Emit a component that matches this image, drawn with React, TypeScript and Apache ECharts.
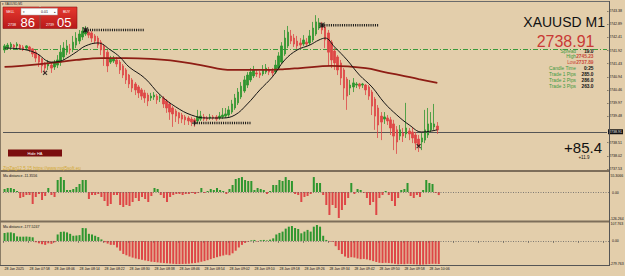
import React, { useEffect, useRef } from "react";
import * as echarts from "echarts";

// ---------- data ----------
const timeTicks = [
  "28 Jan 2025", "28 Jan 07:58", "28 Jan 08:06", "28 Jan 08:14", "28 Jan 08:22", "28 Jan 08:30",
  "28 Jan 08:38", "28 Jan 08:46", "28 Jan 08:54", "28 Jan 09:02", "28 Jan 09:10", "28 Jan 09:18",
  "28 Jan 09:26", "28 Jan 09:34", "28 Jan 09:42", "28 Jan 09:50", "28 Jan 09:58", "28 Jan 10:06",
];
const SLOTS = 194;

// the 2738.99 tick is hidden behind the bid-price marker in the reference
const priceTicks = [
  2743.38, 2742.89, 2742.41, 2741.92, 2741.43, 2740.94, 2740.46,
  2739.97, 2739.48, 2738.51, 2738.02, 2737.53,
];

// Heikin-Ashi candles: [open, close, low, high]
const candles: number[][] = [
  [2741.94, 2742.09, 2741.83, 2742.16], [2742.01, 2742.12, 2741.94, 2742.20], [2742.05, 2742.16, 2741.98, 2742.23],
  [2742.12, 2742.05, 2741.98, 2742.16], [2742.09, 2742.16, 2742.01, 2742.23], [2742.12, 2742.01, 2741.94, 2742.16],
  [2742.05, 2741.98, 2741.90, 2742.12], [2742.01, 2742.09, 2741.94, 2742.12], [2742.05, 2741.94, 2741.86, 2742.09],
  [2741.98, 2741.79, 2741.68, 2742.01], [2741.86, 2741.64, 2741.49, 2741.94], [2741.75, 2741.49, 2741.31, 2741.79],
  [2741.61, 2741.35, 2741.09, 2741.64], [2741.46, 2741.27, 2741.05, 2741.49], [2741.35, 2741.42, 2741.20, 2741.57],
  [2741.38, 2741.27, 2741.09, 2741.46], [2741.31, 2741.46, 2741.20, 2741.57], [2741.38, 2741.57, 2741.27, 2741.75],
  [2741.49, 2741.86, 2741.35, 2742.12], [2741.68, 2742.01, 2741.57, 2742.23], [2741.86, 2742.09, 2741.75, 2742.31],
  [2741.98, 2741.94, 2741.79, 2742.16], [2741.98, 2742.23, 2741.86, 2742.46], [2742.12, 2742.38, 2742.01, 2742.60],
  [2742.27, 2742.53, 2742.16, 2742.68], [2742.42, 2742.64, 2742.31, 2742.79], [2742.53, 2742.68, 2742.46, 2742.83],
  [2742.60, 2742.49, 2742.38, 2742.68], [2742.57, 2742.38, 2742.23, 2742.64], [2742.46, 2742.27, 2742.16, 2742.53],
  [2742.38, 2742.12, 2742.01, 2742.46], [2742.23, 2741.94, 2741.75, 2742.31], [2742.09, 2741.64, 2741.35, 2742.16],
  [2741.86, 2741.35, 2741.12, 2741.94], [2741.49, 2741.61, 2741.42, 2741.72], [2741.53, 2741.64, 2741.46, 2741.72],
  [2741.57, 2741.42, 2741.31, 2741.68], [2741.49, 2741.20, 2741.05, 2741.57], [2741.35, 2741.01, 2740.90, 2741.42],
  [2741.20, 2740.83, 2740.68, 2741.27], [2741.01, 2740.68, 2740.53, 2741.05], [2740.83, 2740.53, 2740.38, 2740.90],
  [2740.68, 2740.46, 2740.27, 2740.75], [2740.57, 2740.35, 2740.16, 2740.64], [2740.46, 2740.23, 2740.09, 2740.53],
  [2740.35, 2740.16, 2739.98, 2740.46], [2740.27, 2740.05, 2739.86, 2740.35], [2740.16, 2740.23, 2740.05, 2740.35],
  [2740.20, 2740.27, 2740.09, 2740.38], [2740.23, 2740.09, 2739.94, 2740.31], [2740.16, 2740.20, 2740.01, 2740.27],
  [2740.16, 2739.94, 2739.79, 2740.23], [2740.05, 2739.79, 2739.61, 2740.12], [2739.94, 2739.64, 2739.35, 2740.01],
  [2739.79, 2739.57, 2739.09, 2739.86], [2739.68, 2739.49, 2739.27, 2739.75], [2739.61, 2739.42, 2739.20, 2739.64],
  [2739.53, 2739.38, 2739.23, 2739.61], [2739.46, 2739.35, 2739.16, 2739.53], [2739.42, 2739.31, 2739.16, 2739.49],
  [2739.38, 2739.27, 2739.12, 2739.46], [2739.35, 2739.27, 2739.09, 2739.42], [2739.31, 2739.46, 2739.23, 2739.72],
  [2739.38, 2739.49, 2739.31, 2739.68], [2739.46, 2739.38, 2739.31, 2739.57], [2739.42, 2739.38, 2739.31, 2739.49],
  [2739.42, 2739.46, 2739.35, 2739.57], [2739.46, 2739.42, 2739.35, 2739.53], [2739.46, 2739.38, 2739.31, 2739.53],
  [2739.42, 2739.49, 2739.35, 2739.64], [2739.46, 2739.53, 2739.38, 2739.79], [2739.49, 2739.57, 2739.42, 2739.79],
  [2739.53, 2739.72, 2739.46, 2739.86], [2739.64, 2739.94, 2739.57, 2740.09], [2739.79, 2740.16, 2739.72, 2740.31],
  [2739.98, 2740.38, 2739.90, 2740.53], [2740.20, 2740.60, 2740.12, 2740.75], [2740.42, 2740.83, 2740.35, 2740.98],
  [2740.64, 2741.01, 2740.53, 2741.12], [2740.83, 2741.12, 2740.75, 2741.27], [2740.98, 2741.20, 2740.90, 2741.35],
  [2741.09, 2741.05, 2740.94, 2741.20], [2741.09, 2741.01, 2740.90, 2741.16], [2741.05, 2741.20, 2740.98, 2741.38],
  [2741.12, 2741.27, 2741.05, 2741.42], [2741.20, 2741.12, 2741.01, 2741.31], [2741.16, 2741.09, 2740.98, 2741.27],
  [2741.12, 2741.38, 2741.05, 2741.57], [2741.27, 2741.72, 2741.20, 2741.86], [2741.49, 2742.09, 2741.42, 2742.23],
  [2741.79, 2742.38, 2741.72, 2742.68], [2742.09, 2742.60, 2742.01, 2742.83], [2742.46, 2742.27, 2742.16, 2742.68],
  [2742.38, 2742.16, 2742.05, 2742.53], [2742.27, 2742.09, 2741.98, 2742.46], [2742.20, 2742.12, 2742.01, 2742.38],
  [2742.16, 2742.31, 2742.09, 2742.49], [2742.23, 2742.16, 2742.05, 2742.38], [2742.20, 2742.46, 2742.12, 2742.68],
  [2742.31, 2742.75, 2742.23, 2742.98], [2742.53, 2742.98, 2742.46, 2743.23], [2742.75, 2742.94, 2742.68, 2743.12],
  [2742.86, 2742.68, 2742.53, 2742.98], [2742.79, 2742.31, 2742.01, 2742.86], [2742.57, 2741.86, 2741.35, 2742.68],
  [2742.23, 2741.57, 2741.27, 2742.31], [2741.90, 2741.46, 2741.20, 2742.01], [2741.68, 2741.20, 2741.01, 2741.75],
  [2741.46, 2740.90, 2740.64, 2741.57], [2741.20, 2740.53, 2740.09, 2741.27], [2740.86, 2740.23, 2739.72, 2740.94],
  [2740.53, 2740.64, 2740.27, 2740.83], [2740.57, 2740.72, 2740.38, 2740.90], [2740.64, 2740.68, 2740.53, 2740.75],
  [2740.68, 2740.60, 2740.49, 2740.72], [2740.64, 2740.68, 2740.53, 2740.72], [2740.64, 2740.46, 2740.27, 2740.68],
  [2740.57, 2740.23, 2740.09, 2740.64], [2740.38, 2739.86, 2739.53, 2740.46], [2740.12, 2739.49, 2738.98, 2740.20],
  [2739.79, 2739.16, 2738.68, 2739.90], [2739.49, 2739.27, 2738.60, 2739.64], [2739.38, 2739.46, 2739.20, 2739.64],
  [2739.42, 2739.31, 2739.16, 2739.53], [2739.35, 2739.05, 2738.79, 2739.46], [2739.20, 2738.75, 2738.23, 2739.35],
  [2738.98, 2738.53, 2738.09, 2739.12], [2738.75, 2738.98, 2738.60, 2739.16], [2738.86, 2738.75, 2738.53, 2739.05],
  [2738.83, 2739.05, 2738.68, 2739.98], [2738.94, 2738.83, 2738.60, 2739.05], [2738.90, 2738.68, 2738.49, 2739.09],
  [2738.79, 2738.49, 2738.23, 2738.90], [2738.64, 2738.38, 2738.16, 2738.79], [2738.53, 2738.68, 2738.23, 2738.86],
  [2738.60, 2738.98, 2738.49, 2739.72], [2738.79, 2739.20, 2738.68, 2739.79], [2738.98, 2739.23, 2738.90, 2739.64],
  [2739.09, 2739.20, 2738.98, 2739.94], [2739.12, 2738.98, 2738.83, 2739.27],
];

// moving averages, [bar index, value]
const fastMA: number[][] = [
  [0, 2742.01], [5, 2741.98], [10, 2741.83], [15, 2741.49], [18, 2741.53], [20, 2741.64], [23, 2741.86],
  [26, 2742.09], [30, 2742.20], [34, 2741.94], [37, 2741.68], [40, 2741.31], [45, 2740.90], [50, 2740.27],
  [55, 2739.83], [60, 2739.53], [65, 2739.42], [70, 2739.42], [74, 2739.53], [78, 2739.94], [82, 2740.46],
  [86, 2740.94], [90, 2741.57], [94, 2741.94], [98, 2742.12], [101, 2742.31], [103, 2742.38], [106, 2742.05],
  [110, 2741.57], [114, 2741.01], [118, 2740.57], [122, 2739.98], [126, 2739.53], [130, 2739.16], [134, 2738.90],
  [139, 2738.98],
];
const slowMA: number[][] = [
  [0, 2741.31], [8, 2741.38], [15, 2741.46], [23, 2741.57], [31, 2741.64], [39, 2741.64], [47, 2741.61],
  [55, 2741.53], [63, 2741.38], [73, 2741.20], [84, 2741.20], [90, 2741.23], [95, 2741.27], [105, 2741.35],
  [116, 2741.27], [122, 2741.12], [127, 2741.01], [133, 2740.86], [139, 2740.72],
];

// zigzag pivots [index, price] and their hatched levels [from, to, price]
const pivotsX: number[][] = [[13, 2741.09], [133, 2738.38]];
const pivotsStar: number[][] = [[26, 2742.68], [102, 2742.86]];
const pivotsPlus: number[][] = [[61, 2739.23]];
const zzLevels: number[][] = [[26, 45, 2742.68], [61, 79, 2739.23], [102, 120, 2742.86]];

const bidPrice = 2738.91;
const levelLine = 2741.98;

const maDistance1 = [
  11.1, 14.8, 14.8, 11.1, 3.7, -22.2, -18.5, -11.1, -11.1, -44.4, -18.5, -7.4, -29.6, -14.8, 14.8, -11.1, -18.5,
  44.4, 55.3, 44.4, 7.4, 7.4, 11.1, 18.5, 29.6, 44.4, 44.4, -25.9, -11.1, -11.1, -7.4, -18.5, -33.3, -51.8, -44.4,
  -11.1, -11.1, -48.1, -55.5, -48.1, -51.8, -37, -22.2, -33.3, -18.5, -25.9, -37, -14.8, 14.8, 11.1, -11.1, -22.2,
  -37, -18.5, -11.1, -7.4, -7.4, -11.1, -7.4, -7.4, -3.7, -7.4, -3.7, 14.8, -3.7, 3.7, 11.1, 7.4, 14.8, 7.4, 3.7,
  -7.4, 11.1, 25.9, 48.1, 51.8, 55.3, 44.4, 40.7, 40.7, 7.4, 14.8, 11.1, 7.4, -7.4, 3.7, 25.9, 25.9, 44.4, 40.7,
  55.3, 44.4, 40.7, -7.4, -11.1, -37, -18.5, -14.8, -7.4, 55.3, 33.3, 33.3, -11.1, -48.1, -85.1, -48.1, -59.2,
  -96.2, -66.6, -48.1, -22.2, 33.3, -7.4, 11.1, 7.4, -3.7, -22.2, -48.1, -37, -85.1, -22.2, -11.1, 3.7, -11.1,
  -33.3, -51.8, -22.2, 7.4, 11.1, 33.3, -14.8, -22.2, -11.1, -18.5, 7.4, 44.4, 33.3, 29.6, -3.7, -11.3556,
];
const maDistance2 = [
  62, 66, 66, 60, 35, 33, 33, 34, 32, 28, -10, -18, -25, -30, -18, -22, -10, 50, 70, 72, 66, 55, 40, 42, 45,
  100, 98, 55, 50, 40, 30, 12, -10, -20, -30, -30, -50, -75, -100, -110, -120, -128, -135, -140, -145, -150,
  -155, -160, -162, -165, -168, -170, -172, -174, -176, -178, -178, -177, -176, -175, -172, -170, -166, -160,
  -155, -148, -140, -132, -125, -118, -112, -106, -110, -95, -75, -50, -30, -15, -6, 5, 8, -4, 6, 8, 4, 10,
  20, 50, 62, 72, 95, 110, 115, 100, 92, 59, 72, 85, 72, 110, 123, 110, 40, 8, -5, -6, -40, -70, -100, -120,
  -130, -125, -128, -135, -140, -138, -142, -148, -155, -162, -168, -170, -168, -170, -172, -176, -180, -178,
  -179, -176, -177, -179, -181, -183, -182, -180, -178, -176, -176, -177.5247,
];

const panelTitles = ["Ma distance -11.3556", "Ma distance -177.5247"];
const panel1Labels = ["55.3066", "0.00", "-126.264"];
const panel2Labels = ["107.763", "0.00", "-279.763"];
const infoRows = [
  ["Spread", "19.0"], ["High", "2745.23"], ["Low", "2737.89"], ["Candle Time", "0:25"],
  ["Trade 1 Pips", "285.0"], ["Trade 2 Pips", "286.0"], ["Trade 3 Pips", "263.0"],
];

// ---------- styling ----------
const BG = "#E3CEAB";
const BULL = "#2E962E";
const BEAR = "#DE4646";
const FONT = "'Liberation Sans', Arial, sans-serif";

const T = (text: string, x: number, y: number, size: number, fill: string, align = "left", weight = "normal") => ({
  type: "text", x, y, silent: true, z: 50,
  style: { text, fill, fontSize: size, fontFamily: FONT, fontWeight: weight, align, textAlign: align, verticalAlign: "middle", textVerticalAlign: "middle" },
});
const L = (x1: number, y1: number, x2: number, y2: number, stroke: string, lineWidth = 1) => ({
  type: "line", silent: true, z: 40, shape: { x1, y1, x2, y2 }, style: { stroke, lineWidth },
});

export default function App() {
  const ref = useRef<HTMLDivElement>(null);
  useEffect(() => {
    if (!ref.current) return;
    const chart = echarts.init(ref.current, undefined, { renderer: "svg" });
    const categories = Array.from({ length: SLOTS }, (_, i) => "b" + i);

    const xAx = (g: number) => ({
      type: "category", gridIndex: g, data: categories, boundaryGap: true,
      axisLine: { show: false },
      axisTick: g === 2 ? { show: true, interval: 7, length: 2, lineStyle: { color: "#444", width: 0.6 } } : { show: false },
      axisLabel: g === 2 ? {
        show: true, interval: 7, fontSize: 3.5, color: "#111", fontFamily: FONT, margin: 2, align: "left",
        formatter: (_v: string, idx: number) => (idx % 8 === 0 && idx / 8 < timeTicks.length ? timeTicks[idx / 8] : ""),
      } : { show: false },
      splitLine: { show: false },
    });

    const ribbon = (p: any) => (p.value >= 0 ? BULL : BEAR);

    const zzSeries = zzLevels.map((lv) => ({
      type: "line", xAxisIndex: 0, yAxisIndex: 0, data: [[lv[0], lv[2]], [lv[1], lv[2]]],
      showSymbol: false, silent: true, z: 5,
      lineStyle: { color: "#111", width: 2.5, type: [1, 1.2] },
    }));

    const option: any = {
      animation: false,
      backgroundColor: BG,
      grid: [
        { left: 3, right: 16, top: 3, height: 166 },
        { left: 3, right: 16, top: 172, height: 49 },
        { left: 3, right: 16, top: 222, height: 43 },
      ],
      xAxis: [xAx(0), xAx(1), xAx(2)],
      yAxis: [
        {
          type: "value", gridIndex: 0, position: "right", min: 2737.53, max: 2743.68,
          axisLine: { show: false },
          axisTick: { show: true, customValues: priceTicks, length: 1.5, lineStyle: { color: "#444", width: 0.6 } },
          axisLabel: {
            show: true, customValues: priceTicks, fontSize: 3.6, color: "#111", fontFamily: FONT, margin: 2,
            formatter: (v: number) => v.toFixed(2),
          },
          splitLine: { show: false },
        },
        { type: "value", gridIndex: 1, min: -107.3, max: 74, show: false },
        { type: "value", gridIndex: 2, min: -185, max: 146, show: false },
      ],
      series: [
        {
          type: "candlestick", xAxisIndex: 0, yAxisIndex: 0, data: candles, barWidth: 2, z: 3,
          itemStyle: { color: BULL, color0: BEAR, borderColor: BULL, borderColor0: BEAR, borderWidth: 0.8 },
          markLine: {
            symbol: "none", silent: true, z: 1,
            data: [
              { yAxis: levelLine, lineStyle: { color: "#3A9A3A", width: 1, type: [5, 2, 1, 2] }, label: { show: false } },
              {
                yAxis: bidPrice, lineStyle: { color: "#555", width: 1, type: "solid" },
                label: {
                  show: true, position: "end", distance: 1, formatter: bidPrice.toFixed(2), fontSize: 3.6,
                  color: "#eee", backgroundColor: "#111", padding: [0.5, 1], fontFamily: FONT,
                },
              },
            ],
          },
        },
        {
          type: "line", xAxisIndex: 0, yAxisIndex: 0, data: slowMA, smooth: 0.4, showSymbol: false, silent: true, z: 4,
          lineStyle: { color: "#8E1D14", width: 1.8 },
        },
        {
          type: "line", xAxisIndex: 0, yAxisIndex: 0, data: fastMA, smooth: 0.4, showSymbol: false, silent: true, z: 4,
          lineStyle: { color: "#141414", width: 1 },
        },
        ...zzSeries,
        {
          type: "scatter", xAxisIndex: 0, yAxisIndex: 0, data: pivotsX, symbol: "path://M0 0L10 10M10 0L0 10",
          symbolSize: 4, z: 6, itemStyle: { color: "none", borderColor: "#111", borderWidth: 1.2 },
        },
        {
          type: "scatter", xAxisIndex: 0, yAxisIndex: 0, data: pivotsStar, symbol: "path://M0 0L10 10M10 0L0 10M5 0L5 10M0 5L10 5",
          symbolSize: 5, z: 6, itemStyle: { color: "none", borderColor: "#111", borderWidth: 1.2 },
        },
        {
          type: "scatter", xAxisIndex: 0, yAxisIndex: 0, data: pivotsPlus, symbol: "path://M5 0L5 10M0 5L10 5",
          symbolSize: 5, z: 6, itemStyle: { color: "none", borderColor: "#111", borderWidth: 1.2 },
        },
        {
          type: "bar", xAxisIndex: 1, yAxisIndex: 1, data: maDistance1, barWidth: 2,
          itemStyle: { color: ribbon },
          markLine: {
            symbol: "none", silent: true, label: { show: false },
            lineStyle: { color: "#666", type: [1, 1.5], width: 0.8 }, data: [{ yAxis: 0 }],
          },
        },
        {
          type: "bar", xAxisIndex: 2, yAxisIndex: 2, data: maDistance2, barWidth: 2,
          itemStyle: { color: ribbon },
          markLine: {
            symbol: "none", silent: true, label: { show: false },
            lineStyle: { color: "#666", type: [1, 1.5], width: 0.8 }, data: [{ yAxis: 0 }],
          },
        },
      ],
      graphic: [
        // frame and separators
        L(0, 1.5, 609, 1.5, "#6b6b6b", 1),
        L(0.5, 1, 0.5, 265, "#8a7c66", 1),
        L(0, 171, 609, 171, "#7d6e5a", 2),
        L(0, 221.5, 609, 221.5, "#7d6e5a", 2),
        L(0, 265.5, 609, 265.5, "#555", 1),
        L(609.5, 1, 609.5, 266, "#555", 1),
        // title
        T("▾ XAUUSD,M1", 2, 3.8, 3, "#222"),
        // one-click trading panel
        {
          type: "rect", z: 45, silent: true, shape: { x: 3, y: 7, width: 36.5, height: 21.5 },
          style: { fill: new echarts.graphic.LinearGradient(0, 0, 0, 1, [{ offset: 0, color: "#E6382E" }, { offset: 1, color: "#B81A1A" }]), stroke: "#8c1414", lineWidth: 0.6 },
        },
        {
          type: "rect", z: 45, silent: true, shape: { x: 40.5, y: 7, width: 36.5, height: 21.5 },
          style: { fill: new echarts.graphic.LinearGradient(0, 0, 0, 1, [{ offset: 0, color: "#E6382E" }, { offset: 1, color: "#B81A1A" }]), stroke: "#8c1414", lineWidth: 0.6 },
        },
        { type: "rect", z: 46, silent: true, shape: { x: 21, y: 8.3, width: 36.5, height: 6.8 }, style: { fill: "#fdfdfd", stroke: "#9a9a9a", lineWidth: 0.5 } },
        T("▾", 23, 11.7, 3, "#333"),
        T("0.01", 44.5, 11.7, 3.5, "#111", "center"),
        T("▴", 54, 11.7, 3, "#333"),
        T("SELL", 6, 11.7, 3.5, "#fff"),
        T("BUY", 63, 11.7, 3.5, "#fff"),
        T("2738", 8, 24.6, 3.6, "#fff"),
        T("86", 20.5, 22.3, 13, "#fff"),
        T("2739", 46, 24.6, 3.6, "#fff"),
        T("05", 57, 22.3, 13, "#fff"),
        // symbol & price
        T("XAUUSD M1", 605, 21.8, 14, "#111", "right"),
        T("2738.91", 594.5, 41.5, 16, "#C93A36", "right"),
        ...infoRows.flatMap((r, k) => {
          const y = 51 + k * 5.85;
          const labelColor = r[0] === "Low" ? "#C84A3A" : "#3F9A3F";
          const valueColor = r[0] === "High" || r[0] === "Low" ? "#C84A3A" : "#111";
          return [T(r[0], 576, y, 4.8, labelColor, "right"), T(r[1], 593.5, y, 4.8, valueColor, "right", "bold")];
        }),
        T("+85.4", 602, 147.5, 15, "#111", "right"),
        T("+11.9", 584, 157.5, 4.5, "#111", "center"),
        // HA button and indicator caption
        { type: "rect", z: 45, silent: true, shape: { x: 8, y: 149.5, width: 54, height: 7 }, style: { fill: "#7A0E0E" } },
        T("Hide HA", 35, 153, 4, "#fff", "center"),
        T("ZigZag12.5.15 https://www.mql5soft.eu", 3, 168, 4.5, "#D2A832"),
        // panel captions and scale labels
        T(panelTitles[0], 3, 176.3, 3.6, "#111"),
        T(panelTitles[1], 3, 226.5, 3.6, "#111"),
        T(panel1Labels[0], 610.5, 175.5, 3.5, "#111"),
        T(panel1Labels[1], 612, 192.5, 3.5, "#111"),
        T(panel1Labels[2], 609.8, 218.5, 3.5, "#111"),
        T(panel2Labels[0], 610.5, 224.3, 3.5, "#111"),
        T(panel2Labels[1], 612, 241, 3.5, "#111"),
        T(panel2Labels[2], 609.8, 263.5, 3.5, "#111"),
      ],
    };
    chart.setOption(option);
    return () => chart.dispose();
  }, []);
  return <div ref={ref} style={{ position: "fixed", left: 0, top: 0, width: 625, height: 276 }} />;
}
